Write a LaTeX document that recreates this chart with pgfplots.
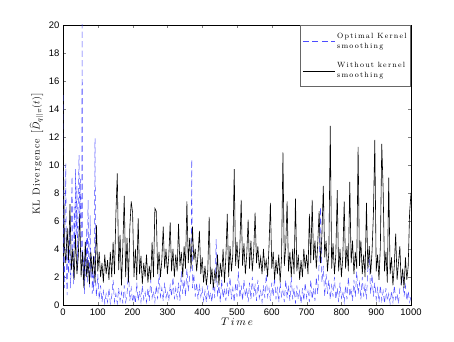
\documentclass[border=0pt]{standalone}
\usepackage{pgfplots}
\pgfplotsset{compat=1.18}
\usepackage{fontspec}
\newfontfamily\arialfont{Liberation Sans}
\newfontfamily\spaced{Latin Modern Roman}[LetterSpace=16]
\newfontfamily\yspaced{Latin Modern Roman}[LetterSpace=10]
\begin{document}
\begin{tikzpicture}[x=1bp,y=1bp]
\useasboundingbox (-63bp,-37bp) rectangle (391bp,305bp);
\begin{axis}[
  at={(0,0)}, anchor=south west,
  scale only axis, width=348bp, height=280bp,
  xmin=0, xmax=1000, ymin=0, ymax=20,
  xtick={0,100,...,1000}, ytick={0,2,...,20},
  tick align=inside, major tick length=3bp,
  tick label style={font=\arialfont\fontsize{9.5}{10}\selectfont},
  /pgf/number format/assume math mode=true,
  /pgf/number format/set thousands separator={},
  scaled ticks=false,
  xlabel={$T\,i\,m\,e$},
  ylabel={\yspaced KL Divergence $\big[\widehat{D}_{q||\pi}(t)\big]$},
  xlabel style={font=\fontsize{10.5}{12}\selectfont, yshift=4bp},
  ylabel style={font=\fontsize{10}{12}\selectfont, at={(ticklabel cs:0.54)}, yshift=-1bp},
  axis line style={line width=0.6pt},
  legend style={at={(1,1)}, anchor=north east, font=\spaced\fontsize{7.6}{9.5}\selectfont, draw=black!60, line width=0.8pt, cells={align=left}, inner xsep=2bp, inner ysep=6bp, row sep=9bp},
  legend cell align=left,
  legend image code/.code={\draw[#1, line width=0.5pt] (0bp,0bp) -- (32bp,0bp);},
]
\addplot[blue!70!white, line width=0.5pt, dash pattern=on 6bp off 3.5bp] coordinates {
(0,15) (2,3.0) (4,1.2) (6,6.0) (8,10.1) (10,2.0) (12,0.7) (14,4.0) (16,2.2) (18,5.5) (20,3.0) (22,1.2) (24,6.5) (26,9.2) (28,3.5) (30,1.5) (32,7.0) (34,4.0) (36,9.7) (38,5.0) (40,8.5) (42,2.5) (44,7.5) (46,10.7) (48,6.0) (50,9.0) (52,3.0) (54,8.0) (55,21) (56,5.0) (58,1.8) (60,3.5) (62,0.8) (64,4.5) (66,2.0) (68,5.5) (70,1.5) (72,7.5) (74,3.0) (76,1.2) (78,6.4) (80,2.0) (82,3.5) (84,0.8) (86,2.5) (88,1.0) (90,3.0) (92,11.9) (94,1.5) (96,0.6)
(100,2.2) (104,0.4) (108,1.4) (112,0.2) (116,1.0) (120,0.1) (124,0.8) (128,0.2) (132,1.2) (136,0.1) (140,0.6) (144,1.8) (148,0.2) (152,0.8) (156,0.1) (160,1.2) (164,0.3) (168,0.9) (172,0.1) (176,1.4) (180,0.2) (184,0.7) (188,2.6) (192,0.3) (196,1.2)
(200,0.2) (204,0.8) (208,0.1) (212,1.6) (216,0.3) (220,1.0) (224,0.2) (228,1.4) (232,0.4) (236,0.9) (240,0.2) (244,1.2) (248,0.3) (252,1.8) (256,0.5) (260,1.0) (264,0.2) (268,1.4) (272,0.4) (276,2.2) (280,0.6) (284,1.2) (288,0.3) (292,1.6) (296,0.5)
(300,1.0) (304,0.3) (308,1.4) (312,0.6) (316,2.0) (320,0.4) (324,1.2) (328,0.5) (332,1.6) (336,0.3) (340,2.4) (344,0.8) (348,1.8) (352,0.6) (356,2.6) (360,1.0) (364,2.0) (368,3.0) (370,10.4) (372,1.2) (376,2.2) (380,0.6) (384,1.6) (388,0.4) (392,1.4) (396,0.6)
(400,1.2) (404,0.3) (408,1.0) (412,0.2) (416,1.4) (420,0.4) (424,0.9) (428,0.2) (432,1.6) (436,0.5) (440,4.7) (444,0.6) (448,1.4) (452,0.2) (456,1.8) (460,0.5) (464,1.2) (468,0.3) (472,1.6) (476,0.6) (480,2.0) (484,0.4) (488,1.2) (492,0.2) (496,1.6)
(500,0.6) (504,2.4) (508,0.5) (512,1.4) (516,0.3) (520,1.8) (524,0.6) (528,1.2) (532,0.2) (536,1.6) (540,0.4) (544,2.0) (548,0.6) (552,1.4) (556,0.3) (560,1.8) (564,0.5) (568,1.0) (572,0.2) (576,1.4) (580,0.5) (584,2.2) (588,0.6) (592,1.2) (596,0.3)
(600,1.6) (604,0.6) (608,2.0) (612,0.4) (616,1.2) (620,0.2) (624,1.6) (628,0.6) (632,1.0) (636,0.2) (640,1.8) (644,0.5) (648,1.4) (652,0.3) (656,2.0) (660,0.4) (664,1.2) (668,0.1) (672,1.4) (676,0.4) (680,1.0) (684,0.1) (688,1.2) (692,0.3) (696,1.6)
(700,0.5) (704,1.0) (708,0.2) (712,1.8) (716,0.4) (720,1.2) (724,0.3) (728,2.0) (732,0.8) (736,3.0) (740,7.0) (744,1.6) (748,2.8) (752,0.6) (756,2.2) (760,0.8) (764,1.8) (768,0.4) (772,1.4) (776,0.6) (780,2.0) (784,0.4) (788,1.2) (792,0.2) (796,1.6)
(800,0.5) (804,1.0) (808,0.2) (812,1.4) (816,0.4) (820,2.0) (824,0.6) (828,1.2) (832,0.3) (836,1.8) (840,0.6) (844,2.4) (848,0.8) (852,1.6) (856,0.4) (860,2.0) (864,0.6) (868,1.4) (872,0.4) (876,2.6) (880,3.5) (884,0.8) (888,2.2) (892,0.6) (896,1.6)
(900,0.4) (904,1.2) (908,0.2) (912,1.4) (916,0.3) (920,1.0) (924,0.1) (928,1.2) (932,0.3) (936,0.8) (940,0.1) (944,1.0) (948,0.2) (952,1.4) (956,0.4) (960,0.8) (964,0.1) (968,1.2) (972,1.6) (976,2.4) (980,0.6) (984,1.4) (988,0.3) (992,1.0) (996,0.2) (1000,0.6)
};
\addlegendentry{Optimal Kernel\\smoothing}
\addplot[black, line width=0.6pt] coordinates {
(0,13.8) (4,4.2) (8,3.0) (12,5.5) (16,3.2) (20,7.2) (24,2.5) (28,4.0) (32,1.8) (36,5.0) (40,2.2) (44,3.5) (48,6.5) (52,2.0) (56,3.8) (60,1.2) (64,4.5) (68,2.0) (72,3.2) (76,1.5) (80,3.8) (84,2.2) (88,3.5) (92,1.6) (96,5.7)
(100,2.4) (104,3.8) (108,2.0) (112,3.0) (116,1.6) (120,3.6) (124,2.2) (128,3.2) (132,1.8) (136,3.8) (140,2.0) (144,4.5) (148,2.2) (152,6.5) (156,9.4) (160,2.5) (164,5.0) (168,1.4) (172,4.2) (176,7.8) (180,2.0) (184,4.8) (188,1.6) (192,5.5) (196,7.4)
(200,6.6) (204,2.0) (208,4.0) (212,1.8) (216,6.2) (220,2.2) (224,3.5) (228,1.5) (232,3.0) (236,2.0) (240,3.6) (244,1.6) (248,2.8) (252,1.8) (256,4.5) (260,2.0) (264,6.9) (268,6.7) (272,2.2) (276,3.8) (280,2.0) (284,3.2) (288,5.6) (292,2.6) (296,4.0)
(300,2.2) (304,3.5) (308,5.9) (312,2.4) (316,4.0) (320,2.0) (324,3.6) (328,2.4) (332,5.8) (336,2.8) (340,3.8) (344,2.0) (348,4.2) (352,2.6) (356,7.4) (360,3.0) (364,4.8) (368,2.6) (372,5.6) (376,3.2) (380,4.0) (384,2.4) (388,3.6) (392,5.3) (396,2.2)
(400,3.4) (404,1.6) (408,2.8) (412,1.4) (416,2.4) (420,6.3) (424,1.5) (428,2.6) (432,1.2) (436,2.4) (440,1.8) (444,3.6) (448,1.4) (452,3.0) (456,2.0) (460,4.0) (464,1.6) (468,3.4) (472,6.5) (476,2.0) (480,4.2) (484,2.4) (488,3.6) (492,9.7) (496,2.8)
(500,4.5) (504,2.6) (508,4.0) (512,7.5) (516,2.8) (520,4.4) (524,2.2) (528,3.6) (532,6.1) (536,2.6) (540,4.6) (544,2.4) (548,3.8) (552,6.6) (556,3.0) (560,4.2) (564,2.6) (568,3.4) (572,2.2) (576,4.0) (580,2.6) (584,3.2) (588,2.0) (592,4.2) (596,7.3)
(600,2.6) (604,3.8) (608,1.8) (612,3.2) (616,2.2) (620,3.6) (624,1.6) (628,3.4) (632,10.9) (636,2.8) (640,4.2) (644,7.4) (648,2.4) (652,3.8) (656,2.0) (660,4.0) (664,2.2) (668,7.6) (672,2.4) (676,3.6) (680,1.8) (684,3.2) (688,2.0) (692,4.0) (696,2.6)
(700,3.6) (704,2.2) (708,6.5) (712,3.0) (716,7.5) (720,3.2) (724,4.6) (728,2.6) (732,4.4) (736,6.7) (740,3.0) (744,5.0) (748,8.5) (752,3.4) (756,4.6) (760,2.4) (764,3.8) (768,12.8) (772,2.6) (776,4.4) (780,2.2) (784,3.6) (788,8.2) (792,2.4) (796,4.0)
(800,2.0) (804,3.4) (808,7.4) (812,2.6) (816,4.2) (820,2.4) (824,8.8) (828,3.0) (832,4.6) (836,2.2) (840,3.8) (844,2.6) (848,11.3) (852,2.8) (856,4.6) (860,2.2) (864,3.6) (868,2.0) (872,7.3) (876,2.6) (880,4.2) (884,2.2) (888,3.8) (892,6.5) (896,11.8)
(900,2.4) (904,3.6) (908,1.8) (912,4.2) (916,11.5) (920,8.2) (924,2.4) (928,3.8) (932,1.6) (936,9.1) (940,2.2) (944,3.4) (948,1.4) (952,2.8) (956,5.1) (960,1.8) (964,3.0) (968,4.2) (972,1.4) (976,2.6) (980,1.2) (984,3.4) (988,1.8) (992,2.8) (996,6.6) (1000,8.0)
};
\addlegendentry{Without kernel\\smoothing}
\end{axis}
\end{tikzpicture}
\end{document}
